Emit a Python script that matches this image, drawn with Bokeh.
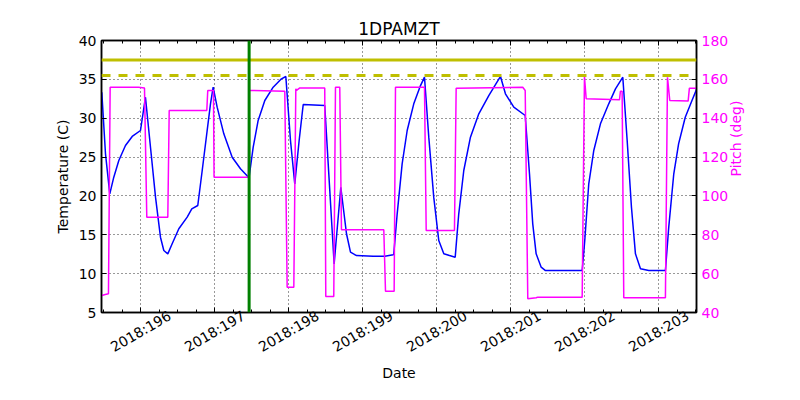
import math
from bokeh.plotting import figure
from bokeh.models import Range1d, LinearAxis, FixedTicker, Span
from bokeh.embed import file_html
from bokeh.resources import INLINE

title_text = "1DPAMZT"
x_label = "Date"
temp_label = "Temperature (C)"
pitch_label = "Pitch (deg)"

day_ticks = [196, 197, 198, 199, 200, 201, 202, 203]
day_tick_labels = ["2018:196", "2018:197", "2018:198", "2018:199",
                   "2018:200", "2018:201", "2018:202", "2018:203"]
temp_ticks = [5, 10, 15, 20, 25, 30, 35, 40]
pitch_ticks = [40, 60, 80, 100, 120, 140, 160, 180]

day_min, day_max = 195.469, 203.51
temp_min, temp_max = 5, 40
pitch_min, pitch_max = 40, 180

limit_solid = 37.5
limit_dashed = 35.5
marker_day = 197.464

temp_days = [195.473, 195.523, 195.581, 195.635, 195.703, 195.793, 195.884, 195.996,
             196.063, 196.131, 196.199, 196.266, 196.311, 196.365, 196.424, 196.514,
             196.627, 196.689, 196.770, 196.830, 196.897, 196.942, 196.978, 197.032,
             197.122, 197.235, 197.347, 197.446, 197.465, 197.519, 197.586, 197.676,
             197.789, 197.901, 197.960, 198.023, 198.081, 198.140, 198.195, 198.486,
             198.554, 198.613, 198.703, 198.780, 198.834, 198.915, 199.140, 199.297,
             199.411, 199.419, 199.465, 199.532, 199.600, 199.689, 199.780, 199.834,
             199.892, 199.959, 200.027, 200.095, 200.172, 200.249, 200.297, 200.365,
             200.455, 200.568, 200.703, 200.861, 200.928, 201.041, 201.195, 201.253,
             201.297, 201.343, 201.411, 201.469, 201.965, 202.000, 202.054, 202.122,
             202.212, 202.324, 202.415, 202.514, 202.573, 202.631, 202.685, 202.753,
             202.865, 203.090, 203.135, 203.203, 203.268, 203.358, 203.449, 203.519]
temp_values = [33.35, 25.42, 20.27, 22.41, 24.56, 26.49, 27.65, 28.42,
               32.7, 26.27, 19.84, 14.69, 12.98, 12.55, 13.84, 15.77,
               17.27, 18.34, 18.77, 23.27, 28.42, 31.85, 33.99, 31.42,
               27.99, 24.98, 23.49, 22.5, 22.5, 26.27, 29.71, 32.28,
               33.99, 35.07, 35.37, 27.13, 21.56, 27.13, 31.76, 31.64,
               20.7, 11.26, 21.12, 15.13, 12.76, 12.33, 12.24, 12.24,
               12.42, 12.55, 17.7, 24.13, 28.42, 31.85, 34.2, 35.28,
               27.56, 19.84, 14.26, 12.55, 12.33, 12.12, 17.7, 23.27,
               27.56, 30.57, 32.92, 35.37, 33.14, 31.42, 30.35, 22.85,
               16.41, 12.55, 10.83, 10.4, 10.4, 14.26, 21.56, 25.85,
               29.28, 31.85, 33.78, 35.28, 27.13, 18.55, 12.55, 10.62,
               10.4, 10.4, 15.98, 22.85, 26.7, 30.13, 32.28, 33.91]

pitch_days = [195.473, 195.519, 195.563, 195.586, 195.969, 196.050, 196.081, 196.365,
              196.384, 196.892, 196.905, 196.982, 196.990, 197.455, 197.465, 197.946,
              197.978, 198.068, 198.095, 198.105, 198.149, 198.486, 198.500, 198.608,
              198.631, 198.689, 198.712, 199.284, 199.307, 199.424, 199.442, 199.834,
              199.857, 200.239, 200.262, 201.162, 201.195, 201.230, 201.343, 201.365,
              201.965, 201.996, 202.019, 202.469, 202.482, 202.505, 202.527, 203.090,
              203.118, 203.149, 203.397, 203.414, 203.519]
pitch_values = [48.75, 49.27, 49.6, 155.96, 155.96, 155.6, 89.06, 89.06,
                144.0, 144.0, 154.3, 154.3, 109.65, 109.65, 154.3, 153.9,
                53.03, 53.03, 155.1, 154.3, 155.6, 155.6, 48.24, 48.24,
                155.96, 155.96, 82.56, 82.56, 50.96, 50.96, 155.96, 155.96,
                82.2, 82.2, 155.45, 155.96, 154.3, 47.05, 47.57, 47.9,
                47.9, 161.47, 149.99, 149.48, 153.9, 153.9, 47.57, 47.57,
                161.1, 149.12, 148.8, 155.45, 155.45]

FONT = "DejaVu Sans"
MAGENTA = "#ff00ff"
PX_PER_DAY = 595.0 / (day_max - day_min)
label_shift = 29.0 / PX_PER_DAY   # rotated labels centred under their ticks
pitch_mid = (pitch_min + pitch_max) / 2

p = figure(width=784, height=384,
           x_range=Range1d(day_min, day_max), y_range=Range1d(temp_min, temp_max),
           output_backend="svg", toolbar_location=None, title=title_text,
           min_border_left=101, min_border_right=88, min_border_top=40, min_border_bottom=72)
p.extra_y_ranges = {"pitch": Range1d(pitch_min, pitch_max)}
p.extra_x_ranges = {"labels": Range1d(day_min - label_shift, day_max - label_shift)}

p.background_fill_color = "white"
p.border_fill_color = "white"
p.outline_line_color = "black"
p.outline_line_width = 1.5

p.title.text_font = FONT
p.title.text_font_size = "17px"
p.title.text_font_style = "normal"
p.title.text_color = "black"
p.title.align = "center"
p.title.standoff = 4

minor_days = [195.5 + 0.25 * i for i in range(33) if (195.5 + 0.25 * i) not in day_ticks]

xa = p.xaxis[0]
xa.ticker = FixedTicker(ticks=day_ticks, minor_ticks=minor_days)

ya = p.yaxis[0]
ya.ticker = FixedTicker(ticks=temp_ticks)
ya.axis_label = temp_label

ra = LinearAxis(y_range_name="pitch", ticker=FixedTicker(ticks=pitch_ticks))
p.add_layout(ra, "right")

# pitch axis title, read bottom-to-top as in the reference
pa = LinearAxis(y_range_name="pitch", ticker=FixedTicker(ticks=[pitch_mid]))
pa.major_label_overrides = {pitch_mid: pitch_label}
pa.major_label_orientation = math.pi / 2
p.add_layout(pa, "right")

ta = LinearAxis(ticker=FixedTicker(ticks=day_ticks, minor_ticks=minor_days))
p.add_layout(ta, "above")

la = LinearAxis(x_range_name="labels", ticker=FixedTicker(ticks=day_ticks), axis_label=x_label)
la.major_label_overrides = {d: lab for d, lab in zip(day_ticks, day_tick_labels)}
la.major_label_orientation = math.pi / 6
p.add_layout(la, "below")

for ax in [xa, ya, ra, ta, la, pa]:
    ax.axis_line_color = "black"
    ax.axis_line_width = 1.5
    ax.major_tick_in = 5
    ax.major_tick_out = 0
    ax.minor_tick_in = 3
    ax.minor_tick_out = 0
    ax.major_tick_line_color = "black"
    ax.major_label_text_font = FONT
    ax.major_label_text_font_size = "14px"
    ax.axis_label_text_font = FONT
    ax.axis_label_text_font_size = "14px"
    ax.axis_label_text_font_style = "normal"
    ax.axis_label_text_color = "black"
    ax.major_label_text_color = "black"
for ax in [ya, ra, pa]:
    ax.minor_tick_line_color = None
for ax in [xa, ta]:
    ax.major_label_text_color = None
    ax.major_label_text_font_size = "1px"
    ax.major_label_standoff = 0
for ax in [la, pa]:
    ax.axis_line_color = None
    ax.major_tick_line_color = None
    ax.minor_tick_line_color = None
    ax.major_tick_in = 0
    ax.minor_tick_in = 0
la.major_label_standoff = 2
la.axis_label_standoff = 0
pa.major_label_standoff = 4
ra.major_label_text_color = MAGENTA
pa.major_label_text_color = MAGENTA

p.xgrid.ticker = FixedTicker(ticks=day_ticks)
p.ygrid.ticker = FixedTicker(ticks=temp_ticks)
for g in [p.xgrid, p.ygrid]:
    g.grid_line_color = "black"
    g.grid_line_dash = "1 3"
    g.grid_line_width = 1
    g.grid_line_alpha = 0.8

p.line(temp_days, temp_values, line_color="#0000ff", line_width=1.5)
p.line(pitch_days, pitch_values, line_color=MAGENTA, line_width=1.5, y_range_name="pitch")

p.add_layout(Span(location=limit_solid, dimension="width", line_color="#bfbf00", line_width=3))
p.add_layout(Span(location=limit_dashed, dimension="width", line_color="#bfbf00", line_width=3,
                  line_dash="9 8"))
p.add_layout(Span(location=marker_day, dimension="height", line_color="#008000", line_width=3))

open("out.html", "w").write(file_html(p, INLINE))
